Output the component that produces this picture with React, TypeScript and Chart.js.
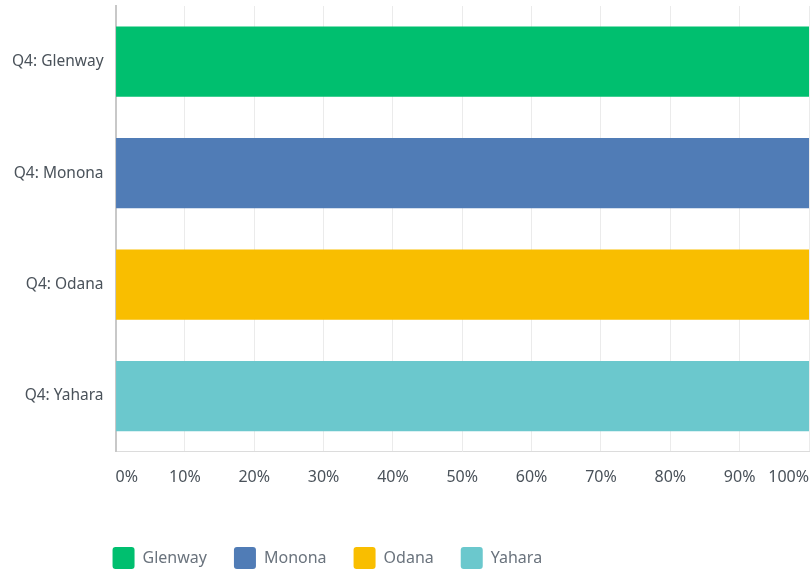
import React, { useEffect, useRef } from "react";
import { Chart, registerables } from "chart.js";

Chart.register(...registerables);

const categories = ["Q4: Glenway", "Q4: Monona", "Q4: Odana", "Q4: Yahara"];
const seriesNames = ["Glenway", "Monona", "Odana", "Yahara"];
const glenway = [100, 0, 0, 0];
const monona = [0, 100, 0, 0];
const odana = [0, 0, 100, 0];
const yahara = [0, 0, 0, 100];
const colors = ["#00BF6F", "#507CB6", "#F9BE00", "#6BC8CD"];
const xTicks = [0, 10, 20, 30, 40, 50, 60, 70, 80, 90, 100];

const FONT = "'Noto Sans', 'Open Sans', sans-serif";

export default function App() {
  const ref = useRef<HTMLCanvasElement>(null);
  useEffect(() => {
    document.body.style.margin = "0";
    const values = [glenway, monona, odana, yahara];
    const legendShift = {
      id: "legendShift",
      afterLayout(chart: any) {
        const lg = chart.legend;
        if (lg) {
          lg.left = chart.chartArea.left - 3 - 27;
          lg.top += 17;
          lg.bottom += 17;
        }
      },
    };
    const chart = new Chart(ref.current!, {
      type: "bar",
      data: {
        labels: categories,
        datasets: seriesNames.map((name, i) => ({
          label: name,
          data: values[i],
          backgroundColor: colors[i],
          borderWidth: 0,
          barPercentage: 0.63,
          categoryPercentage: 1,
        })),
      },
      options: {
        indexAxis: "y",
        animation: false,
        responsive: false,
        maintainAspectRatio: false,
        layout: { autoPadding: false, padding: { top: 6, right: 1, left: 0, bottom: 11 } },
        plugins: {
          tooltip: { enabled: false },
          legend: {
            position: "bottom",
            align: "start",
            labels: {
              boxWidth: 22,
              boxHeight: 22,
              useBorderRadius: true,
              borderRadius: 3,
              padding: 27,
              color: "#6a737d",
              font: { family: FONT, size: 16 },
            },
          },
        },
        scales: {
          x: {
            stacked: true,
            min: 0,
            max: 100,
            afterBuildTicks: (scale: any) => {
              scale.ticks = xTicks.map((v) => ({ value: v }));
            },
            afterFit: (scale: any) => {
              scale.paddingLeft = 0;
              scale.paddingRight = 0;
            },
            grid: { color: "#ebebeb", drawTicks: false, lineWidth: 1 },
            border: { color: "#dcdcdc", width: 1 },
            ticks: {
              align: "inner",
              padding: 16,
              color: "#4a525a",
              font: { family: FONT, size: 16 },
              callback: (v: any) => v + "%",
              maxRotation: 0,
            },
          },
          y: {
            stacked: true,
            afterFit: (scale: any) => {
              scale.paddingTop = 0;
              scale.paddingBottom = 0;
            },
            grid: { display: false, drawTicks: false },
            border: { color: "#c8c8c8", width: 2 },
            ticks: {
              padding: 12,
              color: "#4a525a",
              font: { family: FONT, size: 15.5 },
            },
          },
        },
      },
      plugins: [legendShift],
    } as any);
    return () => chart.destroy();
  }, []);
  return (
    <div style={{ width: 810, height: 573 }}>
      <canvas ref={ref} width={810} height={573} style={{ display: "block" }} />
    </div>
  );
}
